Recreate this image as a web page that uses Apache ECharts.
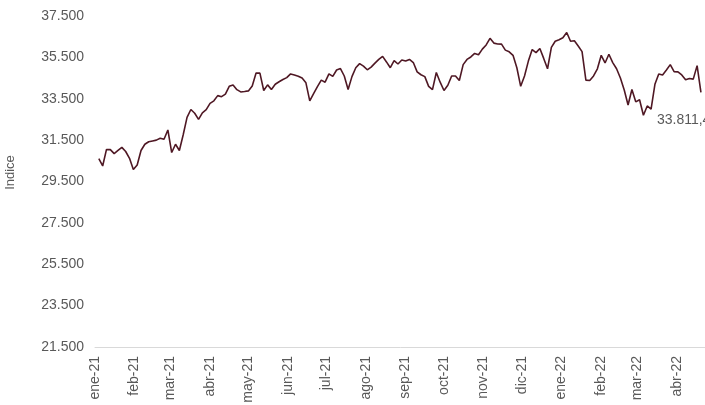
<!DOCTYPE html>
<html>
<head>
<meta charset="utf-8">
<script src="https://cdn.jsdelivr.net/npm/echarts@6/dist/echarts.min.js"></script>
<style>html,body{margin:0;padding:0;background:#fff}#c{width:705px;height:405px}</style>
</head>
<body>
<div id="c"></div>
<script>
// Month tick labels (Spanish, Excel style)
const monthLabels = ['ene-21','feb-21','mar-21','abr-21','may-21','jun-21','jul-21','ago-21','sep-21','oct-21','nov-21','dic-21','ene-22','feb-22','mar-22','abr-22'];
// First observation date and spacing between observations (calendar days)
const startDate = '2021-01-04';
const stepDays = 3;
// Index values (one every 3 calendar days)
const indexValues = [
  30600, 30250, 31050, 31040, 30850, 31000, 31150, 30950, 30620, 30080,
  30300, 31000, 31300, 31420, 31460, 31500, 31590, 31540, 31990, 30900,
  31300, 31000, 31760, 32600, 32980, 32800, 32500, 32820, 32970, 33280,
  33400, 33650, 33600, 33720, 34100, 34170, 33940, 33830, 33850, 33880,
  34120, 34740, 34740, 33900, 34170, 33950, 34200, 34320, 34430, 34520,
  34700, 34650, 34590, 34500, 34270, 33400, 33750, 34090, 34400, 34300,
  34700, 34580, 34890, 34960, 34600, 33950, 34570, 35000, 35200, 35080,
  34900, 35030, 35220, 35400, 35550, 35280, 35000, 35340, 35180, 35370,
  35320, 35400, 35250, 34800, 34660, 34570, 34100, 33940, 34770, 34300,
  33900, 34150, 34600, 34600, 34380, 35150, 35400, 35520, 35690, 35630,
  35900, 36100, 36420, 36190, 36150, 36140, 35850, 35770, 35600, 35000,
  34100, 34600, 35320, 35880, 35730, 35930, 35450, 34950, 35980, 36280,
  36350, 36450, 36700, 36280, 36300, 36050, 35780, 34400, 34380, 34600,
  34950, 35600, 35230, 35650, 35250, 34950, 34500, 33920, 33200, 33950,
  33350, 33450, 32700, 33150, 33000, 34200, 34700, 34650, 34890, 35150,
  34810, 34800, 34650, 34420, 34480, 34450, 35100, 33811.4
];
// Y axis range / ticks
const yMin = 21500, yMax = 37500, yStep = 2000;
const xMin = '2021-01-01', xMax = '2022-05-01';

const DAY = 86400000;
const t0 = Date.parse(startDate + 'T00:00:00Z');
const seriesData = indexValues.map((v, i) => [t0 + i * stepDays * DAY, v]);
const monthStarts = monthLabels.map((_, i) => Date.UTC(2021 + Math.floor(i / 12), i % 12, 1));

function fmtThousands(v) {
  const parts = String(v).split('.');
  const intPart = parts[0].replace(/\B(?=(\d{3})+(?!\d))/g, '.');
  return parts.length > 1 ? intPart + ',' + parts[1] : intPart;
}

const FONT = 'Liberation Sans, Arial, sans-serif';
const chart = echarts.init(document.getElementById('c'), null, {renderer: 'canvas'});
chart.setOption({
  animation: false,
  backgroundColor: '#ffffff',
  grid: {left: 95, top: 16, bottom: 58, width: 620, containLabel: false, outerBoundsMode: 'none'},
  xAxis: {
    type: 'value',
    min: Date.parse(xMin + 'T00:00:00Z'),
    max: Date.parse(xMax + 'T00:00:00Z'),
    axisLine: {show: true, lineStyle: {color: '#d9d9d9', width: 1}},
    axisTick: {show: false},
    splitLine: {show: false},
    axisLabel: {
      customValues: monthStarts,
      rotate: 90,
      margin: 9,
      color: '#595959',
      fontFamily: FONT,
      fontSize: 14,
      formatter: function (val) {
        const d = new Date(val);
        const idx = (d.getUTCFullYear() - 2021) * 12 + d.getUTCMonth();
        return monthLabels[idx] || '';
      }
    }
  },
  yAxis: {
    type: 'value',
    min: yMin, max: yMax, interval: yStep,
    name: 'Indice',
    nameLocation: 'middle',
    nameRotate: 90,
    nameGap: 78,
    nameTextStyle: {color: '#595959', fontSize: 13, fontFamily: FONT, padding: [0, 0, 0, 18]},
    axisLine: {show: false},
    axisTick: {show: false},
    splitLine: {show: false},
    axisLabel: {
      color: '#595959', margin: 11, fontSize: 14,
      fontFamily: FONT,
      formatter: function (v) { return fmtThousands(v); }
    }
  },
  series: [{
    type: 'line',
    data: seriesData,
    showSymbol: false,
    symbol: 'none',
    lineStyle: {color: '#4f1824', width: 1.6},
    itemStyle: {color: '#4f1824'},
    endLabel: {
      show: true,
      distance: 5,
      offset: [-49, 28],
      color: '#595959',
      fontSize: 14,
      fontFamily: FONT,
      formatter: function (p) { return fmtThousands(p.value[1]); }
    }
  }]
});
</script>
</body>
</html>
